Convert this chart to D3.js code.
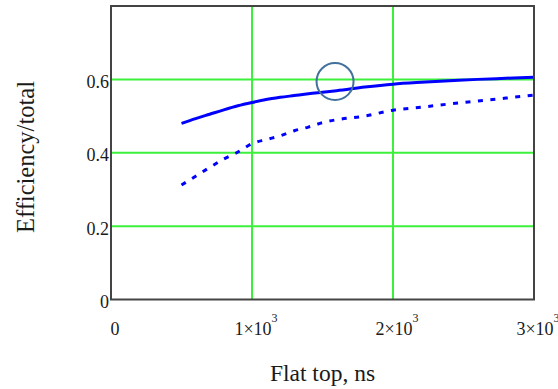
<!DOCTYPE html>
<html>
<head>
<meta charset="utf-8">
<script src="https://cdn.jsdelivr.net/npm/d3@7"></script>
<style>
    body { margin: 0; background: #fff; }
    svg { display: block; }
    text { font-family: "Liberation Serif", "Times New Roman", serif; fill: #1a1a1a; }
</style>
</head>
<body>
<div id="chart"></div>
<script>
// flat top duration, ns
const flatTop = [500, 600, 700, 800, 900, 1000, 1100, 1200, 1300, 1400, 1500, 1600, 1800, 2000, 2200, 2400, 2600, 2800, 3000];
// solid curve
const effSolid = [0.480, 0.493, 0.505, 0.517, 0.528, 0.537, 0.545, 0.551, 0.556, 0.561, 0.565, 0.569, 0.579, 0.587, 0.592, 0.596, 0.600, 0.603, 0.606];
// dotted curve
const effDotted = [0.312, 0.336, 0.360, 0.383, 0.402, 0.425, 0.436, 0.446, 0.460, 0.470, 0.482, 0.490, 0.500, 0.516, 0.524, 0.533, 0.541, 0.549, 0.557];

const xTicks = [0, 1000, 2000, 3000];
const xTickLabels = ['0', '1×10|3', '2×10|3', '3×10|3'];
const yTicks = [0, 0.2, 0.4, 0.6];
const yTickLabels = ['0', '0.2', '0.4', '0.6'];
const xGrid = [1000, 2000];
const yGrid = [0.2, 0.4, 0.6];

// the hand-drawn circle marker near 1.6e3
const marker = [{x: 1589, y: 0.594}];

const W = 558, H = 389;
const plotL = 111, plotR = 534, plotT = 6, plotB = 299.5;

const svg = d3.select('#chart').append('svg')
    .attr('width', W)
    .attr('height', H);

const x = d3.scaleLinear().domain([0, 3000]).range([plotL, plotR]);
const y = d3.scaleLinear().domain([0, 0.8]).range([plotB, plotT]);

// grid
svg.append('g').selectAll('line')
    .data(yGrid)
    .enter()
    .append('line')
    .attr('x1', plotL).attr('x2', plotR)
    .attr('y1', (d) => y(d)).attr('y2', (d) => y(d))
    .attr('stroke', '#3cf03c')
    .attr('stroke-width', 2);

svg.append('g').selectAll('line')
    .data(xGrid)
    .enter()
    .append('line')
    .attr('y1', plotT).attr('y2', plotB)
    .attr('x1', (d) => x(d)).attr('x2', (d) => x(d))
    .attr('stroke', '#3cf03c')
    .attr('stroke-width', 2);

// curves
let line = d3.line()
    .x((d) => x(d[0]))
    .y((d) => y(d[1]))
    .curve(d3.curveMonotoneX);

svg.append('path')
    .datum(d3.zip(flatTop, effSolid))
    .attr('d', line)
    .attr('fill', 'none')
    .attr('stroke', '#0000ff')
    .attr('stroke-width', 3);

svg.append('path')
    .datum(d3.zip(flatTop, effDotted))
    .attr('d', line)
    .attr('fill', 'none')
    .attr('stroke', '#0000ff')
    .attr('stroke-width', 3)
    .attr('stroke-dasharray', '5,7.5');

// frame
svg.append('rect')
    .attr('x', plotL).attr('y', plotT)
    .attr('width', plotR - plotL).attr('height', plotB - plotT)
    .attr('fill', 'none')
    .attr('stroke', '#444')
    .attr('stroke-width', 2);

svg.selectAll('.marker')
    .data(marker)
    .enter()
    .append('circle')
    .classed('marker', true)
    .attr('cx', (d) => x(d.x))
    .attr('cy', (d) => y(d.y))
    .attr('r', 18.5)
    .attr('fill', 'none')
    .attr('stroke', '#41719c')
    .attr('stroke-width', 2);

// y tick labels
svg.append('g').selectAll('text')
    .data(yTicks)
    .enter()
    .append('text')
    .attr('x', plotL - 2)
    .attr('y', (d) => y(d) + 8.5)
    .attr('text-anchor', 'end')
    .style('font-size', '18px')
    .text((d, i) => yTickLabels[i]);

// x tick labels, mantissa + superscript exponent
let xLabels = svg.append('g').selectAll('text')
    .data(xTicks)
    .enter()
    .append('text')
    .attr('x', (d) => x(d) + 4)
    .attr('y', 335)
    .attr('text-anchor', 'middle')
    .style('font-size', '18px');

xLabels.append('tspan')
    .text((d, i) => xTickLabels[i].split('|')[0]);

xLabels.filter((d, i) => xTickLabels[i].includes('|'))
    .append('tspan')
    .attr('dy', -13)
    .style('font-size', '12px')
    .text((d) => xTickLabels[xTicks.indexOf(d)].split('|')[1]);

// axis titles
svg.append('text')
    .attr('x', (plotL + plotR) / 2)
    .attr('y', 381)
    .attr('text-anchor', 'middle')
    .style('font-size', '23.5px')
    .text('Flat top, ns');

svg.append('text')
    .attr('transform', 'translate(34,157) rotate(-90)')
    .attr('text-anchor', 'middle')
    .style('font-size', '24.5px')
    .text('Efficiency/total');
</script>
</body>
</html>
